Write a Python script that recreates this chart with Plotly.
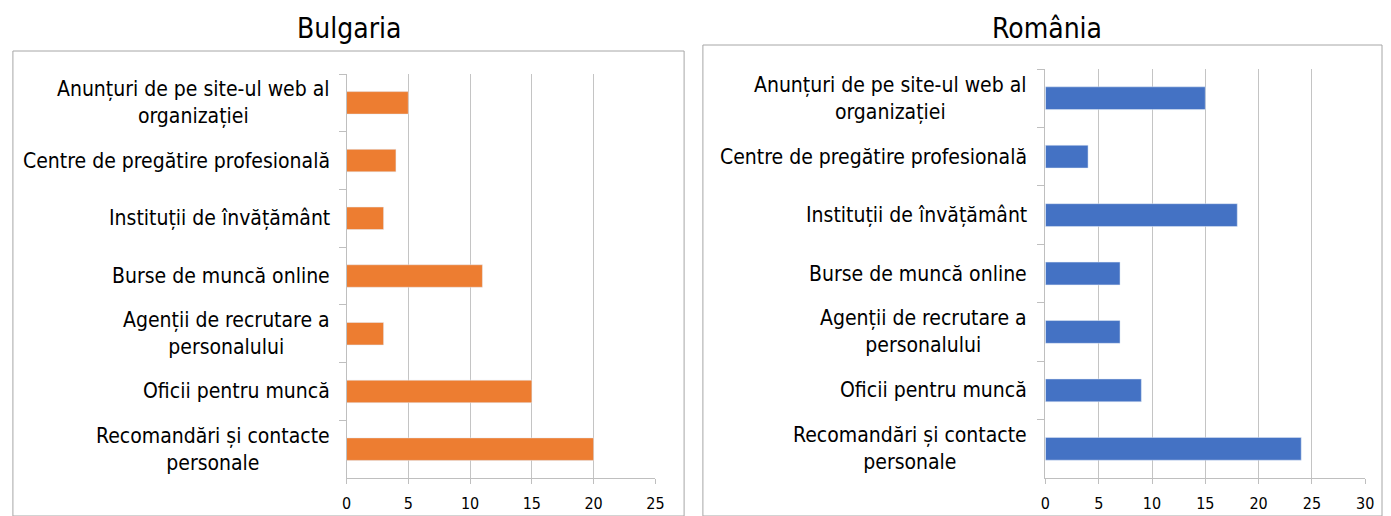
import plotly.graph_objects as go

categories = [
    "Anunțuri de pe site-ul web al<br>organizației",
    "Centre de pregătire profesională",
    "Instituții de învățământ",
    "Burse de muncă online",
    "Agenții de recrutare a<br>personalului",
    "Oficii pentru muncă",
    "Recomandări și contacte<br>personale",
]
bulgaria = [5, 4, 3, 11, 3, 15, 20]
romania = [15, 4, 18, 7, 7, 9, 24]
titles = ["Bulgaria", "România"]

W, H = 1391, 516
FONT = "DejaVu Sans Condensed"

def px(x):
    return x / W

def py(y):
    return 1 - y / H

fig = go.Figure()
fig.add_trace(go.Bar(y=categories, x=bulgaria, orientation="h", marker_color="#ED7D31",
                     xaxis="x", yaxis="y", width=0.39, showlegend=False))
fig.add_trace(go.Bar(y=categories, x=romania, orientation="h", marker_color="#4472C4",
                     xaxis="x2", yaxis="y2", width=0.39, showlegend=False))

yax = dict(type="category", categoryorder="array", categoryarray=categories,
           autorange="reversed", showline=True, linecolor="#bfbfbf", linewidth=1,
           ticks="outside", tickson="boundaries", ticklen=7, tickcolor="#bfbfbf",
           showgrid=False, showticklabels=False)
xax = dict(showgrid=True, gridcolor="#c4c4c4", gridwidth=1, zeroline=False,
           showline=True, linecolor="#bfbfbf", linewidth=1, ticks="outside",
           ticklen=5, tickcolor="#bfbfbf", ticklabelstandoff=6,
           tickfont=dict(family=FONT, size=16, color="#000000"), dtick=5)

annotations = [
    dict(text=titles[0], x=px(347), y=py(29), xref="paper", yref="paper",
         xanchor="center", yanchor="middle", showarrow=False,
         font=dict(family=FONT, size=28, color="#000000")),
    dict(text=titles[1], x=px(1053), y=py(29), xref="paper", yref="paper",
         xanchor="center", yanchor="middle", showarrow=False,
         font=dict(family=FONT, size=28, color="#000000")),
]
for yref, xpos in (("y", 330), ("y2", 1034)):
    for c in categories:
        annotations.append(dict(text=c, x=px(xpos), y=c, xref="paper", yref=yref,
                                xanchor="right", yanchor="middle", align="center",
                                showarrow=False,
                                font=dict(family=FONT, size=21, color="#000000")))

fig.update_layout(
    width=W, height=H, margin=dict(l=0, r=0, t=0, b=0), autosize=False,
    paper_bgcolor="white", plot_bgcolor="white",
    xaxis=dict(xax, domain=[px(345), px(657)], range=[0, 25], anchor="y"),
    yaxis=dict(yax, domain=[py(478), py(74)], anchor="x"),
    xaxis2=dict(xax, domain=[px(1051), px(1374)], range=[0, 30], anchor="y2"),
    yaxis2=dict(yax, domain=[py(478), py(69)], anchor="x2"),
    annotations=annotations,
    shapes=[
        dict(type="rect", xref="paper", yref="paper", x0=px(8), x1=px(686),
             y0=0, y1=py(51), line=dict(color="#a6a6a6", width=1)),
        dict(type="rect", xref="paper", yref="paper", x0=px(705), x1=1.0,
             y0=0, y1=py(45), line=dict(color="#a6a6a6", width=1)),
    ],
)

fig.write_html("out.html",
               config={"displayModeBar": False, "responsive": False},
               post_script="document.body.style.margin='0';document.body.style.overflow='hidden';")
